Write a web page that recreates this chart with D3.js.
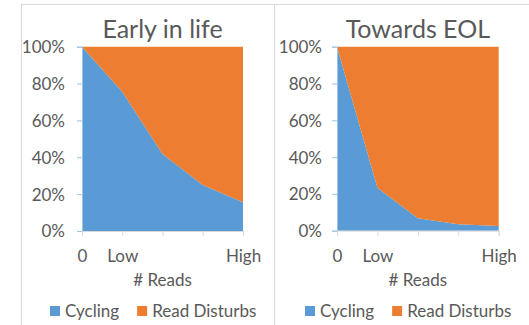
<!DOCTYPE html>
<html>
<head>
<meta charset="utf-8">
<script src="https://cdn.jsdelivr.net/npm/d3@7"></script>
<style>
  html, body { margin: 0; padding: 0; background: #fff; }
  svg { display: block; }
  text { font-family: Lato, "Open Sans", sans-serif; fill: #595959; }
</style>
</head>
<body>
<svg id="chart" width="529" height="325"></svg>
<script>
// Read-count steps along the x axis (blank steps get a tick but no label)
const readSteps = ["0", "Low", "", "", "High"];
const seriesNames = ["Cycling", "Read Disturbs"];
const seriesColors = ["#5b9bd5", "#ed7d31"];
const yTicks = [0, 20, 40, 60, 80, 100];

// Share of errors caused by cycling, percent
const earlyCycling = [100, 75.6, 41.8, 25, 15.6];
const eolCycling = [100, 23.4, 6.7, 3.5, 2.6];

const FONT = "Lato, 'Open Sans', sans-serif";
const svg = d3.select("#chart");

// panel frames
svg.append("rect").attr("x", 21.5).attr("y", 4.5).attr("width", 253).attr("height", 330)
  .attr("fill", "none").attr("stroke", "#d9d9d9");
svg.append("rect").attr("x", 274.5).attr("y", 4.5).attr("width", 270).attr("height", 330)
  .attr("fill", "none").attr("stroke", "#d9d9d9");

function panel(opts) {
  const g = svg.append("g");
  const x = d3.scalePoint().domain(d3.range(readSteps.length)).range([opts.x0, opts.x1]);
  const y = d3.scaleLinear().domain([0, 100]).range([opts.yBottom, opts.yTop]);

  const rows = opts.cycling.map((c, i) => ({ i, "Cycling": c, "Read Disturbs": 100 - c }));
  const stacked = d3.stack().keys(seriesNames)(rows);

  const area = d3.area()
    .x(d => x(d.data.i))
    .y0(d => y(d[0]))
    .y1(d => y(d[1]));

  g.selectAll("path.layer").data(stacked).join("path")
    .attr("class", "layer")
    .attr("d", area)
    .attr("fill", (d, i) => seriesColors[i]);

  // y axis
  const yAxis = d3.axisLeft(y).tickValues(yTicks).tickSize(5).tickFormat(d => d + "%");
  const ya = g.append("g").attr("transform", `translate(${opts.x0},0)`).call(yAxis);
  ya.select(".domain").attr("stroke", "#9dc3e6");
  ya.selectAll(".tick line").attr("stroke", "#9dc3e6");
  ya.selectAll(".tick text").attr("font-size", 17).attr("fill", "#595959")
    .attr("x", -opts.yLabelGap).attr("dy", "0.35em")
    .style("font-family", FONT);

  // x axis
  const xAxis = d3.axisBottom(x).tickSize(5).tickFormat(i => readSteps[i]);
  const xa = g.append("g").attr("transform", `translate(0,${opts.yBottom})`).call(xAxis);
  xa.select(".domain").attr("stroke", "#d9d9d9");
  xa.selectAll(".tick line").attr("stroke", "#d9d9d9");
  xa.selectAll(".tick text").attr("font-size", 17).attr("fill", "#595959")
    .attr("y", 25).attr("dy", "0.35em")
    .style("font-family", FONT);

  const cx = (opts.x0 + opts.x1) / 2;
  g.append("text").attr("x", cx).attr("y", 38).attr("text-anchor", "middle")
    .attr("font-size", 25).text(opts.title);
  g.append("text").attr("x", cx).attr("y", 286).attr("text-anchor", "middle")
    .attr("font-size", 17).text("# Reads");

  // legend
  const lg = g.append("g").attr("transform", `translate(${opts.legendX},0)`);
  let off = 0;
  seriesNames.forEach((name, i) => {
    lg.append("rect").attr("x", off).attr("y", 306).attr("width", 10).attr("height", 10)
      .attr("fill", seriesColors[i]);
    const t = lg.append("text").attr("x", off + 15).attr("y", 317).attr("font-size", 17).text(name);
    off += 15 + t.node().getComputedTextLength() + 18;
  });
}

panel({ title: "Early in life", cycling: earlyCycling, x0: 82, x1: 243, yTop: 46.7, yBottom: 231, legendX: 50, yLabelGap: 17 });
panel({ title: "Towards EOL", cycling: eolCycling, x0: 337, x1: 498.7, yTop: 46.7, yBottom: 230.7, legendX: 305, yLabelGap: 15 });
</script>
</body>
</html>
